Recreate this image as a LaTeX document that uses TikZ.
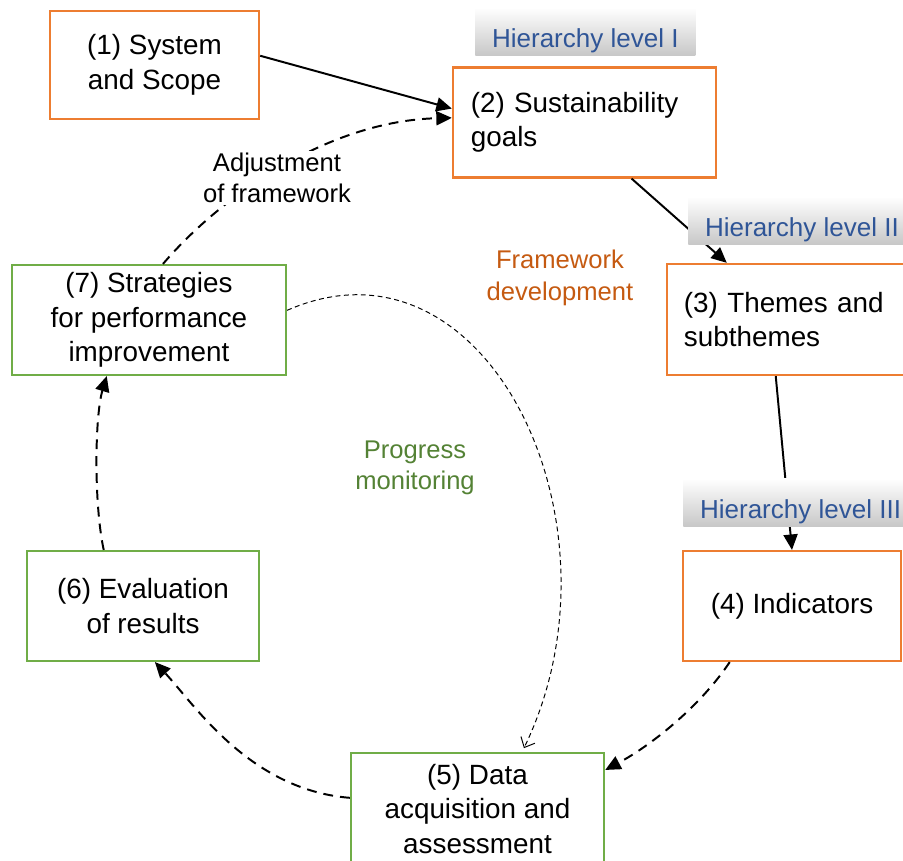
\documentclass[tikz,border=0pt]{standalone}
\usepackage{fontspec}
\setmainfont{Liberation Sans}
\usetikzlibrary{arrows.meta,calc}
\definecolor{devorange}{HTML}{ED7D31}
\definecolor{mongreen}{HTML}{70AD47}
\definecolor{levelblue}{HTML}{2F5597}
\definecolor{devtext}{HTML}{C55A11}
\definecolor{montext}{HTML}{548235}
\tikzstyle{devbox} = [rectangle, draw=devorange, line width=1.5pt, minimum height=2.75cm, inner sep=0pt, align=center, font=\fontsize{19.8pt}{24.5pt}\selectfont]
\tikzstyle{monbox} = [devbox, draw=mongreen]
\tikzstyle{level} = [anchor=south west, inner xsep=0.42cm, inner ysep=0pt, text height=1cm, text depth=0.2cm, top color=white, middle color=white, bottom color=black!22, text=levelblue, font=\fontsize{18.5pt}{23pt}\selectfont]
\tikzstyle{phase} = [align=center, font=\fontsize{18.2pt}{22.4pt}\selectfont]
\tikzstyle{arrow} = [line width=1.4pt, -{Triangle[length=11pt,width=10pt]}]
\tikzstyle{cyclearrow} = [arrow, dash pattern=on 7pt off 5pt]
\tikzstyle{monarrow} = [line width=0.7pt, dash pattern=on 3.5pt off 2.5pt, -{Straight Barb[length=6pt,width=11pt]}, shorten >=3pt]
\begin{document}
\begin{tikzpicture}[x=0.025cm, y=-0.025cm]
\useasboundingbox (0,0) rectangle (903,861);

% framework development
\node[devbox, minimum width=5.23cm, minimum height=2.7cm] (system) at (154.5,65) {(1) System\\and Scope};
\node[devbox, minimum width=6.58cm, text width=5.68cm, align=left] (goals) at (584.5,122.5) {(2) Sustainability\\goals};
\node[devbox, minimum width=6.25cm, minimum height=2.78cm, text width=5.4cm, align=left] (themes) at (792,319.5) {(3) Themes and\\subthemes};
\node[devbox, minimum width=5.45cm] (indicators) at (792,606) {(4) Indicators};

% progress monitoring
\node[monbox, minimum width=6.33cm, minimum height=2.8cm] (data) at (477.5,809) {(5) Data\\acquisition and\\assessment};
\node[monbox, minimum width=5.8cm] (evaluation) at (143,606) {(6) Evaluation\\of results};
\node[monbox, minimum width=6.85cm] (strategies) at (149,320) {(7) Strategies\\for performance\\improvement};

\draw[arrow] (system.5) -- (goals.174);
\draw[arrow] (goals.-50) -- (themes.139);
\draw[arrow] (themes.-106) -- (indicators.north);
\draw[cyclearrow] (indicators.-138) .. controls +(-30,45) and +(45,-24) .. (data.17);
\draw[cyclearrow] (data.175) .. controls +(-100,-8) and +(40,43) .. (evaluation.-78);
\draw[cyclearrow] (evaluation.125) .. controls +(-10,-46) and +(-12,40) .. (strategies.-127);
\draw[cyclearrow] (strategies.76) .. controls +(60,-70) and +(-122,3) .. (goals.178);
\draw[monarrow] (strategies.4) .. controls +(200,-88) and +(110,-227) .. (data.52);

\node[phase, fill=white, inner sep=1pt] (adjust) at (277,178) {Adjustment\\of framework};
\node[phase, text=devtext] (devlabel) at (560,278) {Framework\\development};
\node[phase, text=montext] (monlabel) at (415,468) {Progress\\monitoring};

\node[level] (level1) at (475,56) {Hierarchy level I};
\node[level] (level2) at (688,245) {Hierarchy level II};
\node[level] (level3) at (683,527) {Hierarchy level III};
\end{tikzpicture}
\end{document}
